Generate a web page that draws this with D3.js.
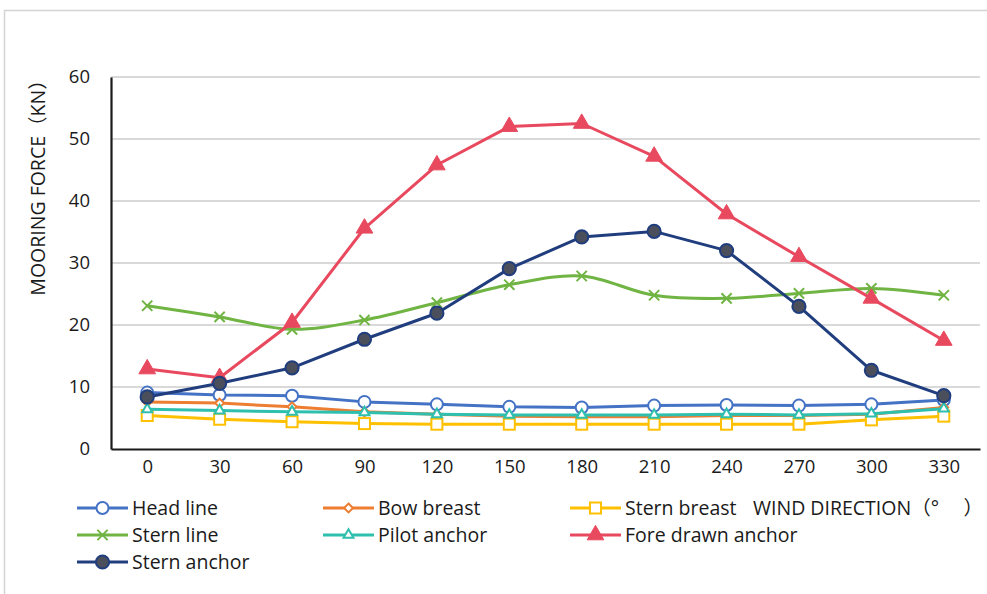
<!DOCTYPE html>
<html>
<head>
<meta charset="utf-8">
<script src="https://cdn.jsdelivr.net/npm/d3@7"></script>
<style>
  html, body { margin: 0; padding: 0; background: #fff; }
  svg { display: block; }
  text { font-family: "Open Sans", "Noto Sans CJK SC", sans-serif; fill: #1a1a1a; }
</style>
</head>
<body>
<svg id="chart" width="987" height="594"></svg>
<script>
// Wind direction categories (degrees)
const directions = [0, 30, 60, 90, 120, 150, 180, 210, 240, 270, 300, 330];
const yTicks = [0, 10, 20, 30, 40, 50, 60];

// Mooring force per line/anchor (kN)
const headLine       = [9.1, 8.7, 8.6, 7.6, 7.2, 6.8, 6.7, 7.0, 7.1, 7.0, 7.2, 7.9];
const bowBreast      = [7.6, 7.4, 6.8, 6.0, 5.6, 5.3, 5.2, 5.2, 5.4, 5.4, 5.6, 6.7];
const sternBreast    = [5.4, 4.8, 4.4, 4.1, 4.0, 4.0, 4.0, 4.0, 4.0, 4.0, 4.7, 5.3];
const sternLine      = [23.1, 21.3, 19.3, 20.8, 23.6, 26.5, 27.9, 24.8, 24.3, 25.1, 25.9, 24.8];
const pilotAnchor    = [6.4, 6.2, 6.0, 5.9, 5.6, 5.5, 5.5, 5.5, 5.6, 5.5, 5.7, 6.5];
const foreDrawn      = [12.9, 11.5, 20.4, 35.6, 45.8, 52.0, 52.5, 47.2, 37.9, 31.0, 24.3, 17.5];
const sternAnchor    = [8.4, 10.6, 13.1, 17.7, 21.9, 29.1, 34.2, 35.1, 32.0, 23.0, 12.7, 8.6];

const seriesList = [
  { name: "Head line",         values: headLine,    color: "#4472C4", marker: "circle" },
  { name: "Bow breast",        values: bowBreast,   color: "#ED7D31", marker: "diamond" },
  { name: "Stern breast",      values: sternBreast, color: "#FFC000", marker: "square" },
  { name: "Stern line",        values: sternLine,   color: "#70B443", marker: "cross", smooth: true },
  { name: "Pilot anchor",      values: pilotAnchor, color: "#2EBFAE", marker: "triangle" },
  { name: "Fore drawn anchor", values: foreDrawn,   color: "#E8495E", marker: "triangleFilled" },
  { name: "Stern anchor",      values: sternAnchor, color: "#203D7E", marker: "dot" }
];

const svg = d3.select("#chart");

// outer chart frame
svg.append("rect")
  .attr("x", 4.5).attr("y", 10.5)
  .attr("width", 1000).attr("height", 600)
  .attr("fill", "none").attr("stroke", "#d4d4d4").attr("stroke-width", 1.5);

const plot = { left: 111, right: 980, top: 77, bottom: 449 };

const x = d3.scalePoint().domain(directions).range([plot.left, plot.right]).padding(0.5);
const y = d3.scaleLinear().domain([0, 60]).range([plot.bottom, plot.top]);

// horizontal gridlines
svg.append("g")
  .selectAll("line")
  .data(yTicks.filter(d => d > 0))
  .join("line")
  .attr("x1", plot.left).attr("x2", plot.right)
  .attr("y1", d => y(d)).attr("y2", d => y(d))
  .attr("stroke", "#d9d9d9").attr("stroke-width", 2);

// y axis
const yAxis = svg.append("g")
  .attr("transform", `translate(${plot.left},0)`)
  .call(d3.axisLeft(y).tickValues(yTicks).tickSize(0).tickPadding(21));
yAxis.select(".domain").attr("stroke", "#1a1a1a").attr("stroke-width", 2.2);
yAxis.selectAll("text").attr("font-size", 18.5).style("font-family", "\"Open Sans\", sans-serif").attr("fill", "#1a1a1a");

// x axis
const xAxis = svg.append("g")
  .attr("transform", `translate(0,${plot.bottom})`)
  .call(d3.axisBottom(x).tickSize(0).tickPadding(11));
xAxis.select(".domain").attr("stroke", "#1a1a1a").attr("stroke-width", 2.2);
xAxis.selectAll("text").attr("font-size", 18.5).style("font-family", "\"Open Sans\", sans-serif").attr("fill", "#1a1a1a");

// y axis title
svg.append("text")
  .attr("transform", "translate(45,183) rotate(-90)")
  .attr("text-anchor", "middle")
  .attr("font-size", 19.5)
  .text("MOORING FORCE（KN）");

// marker drawing
function drawMarker(g, type, color, cx, cy) {
  if (type === "circle") {
    g.append("circle").attr("cx", cx).attr("cy", cy).attr("r", 6)
      .attr("fill", "#fff").attr("stroke", color).attr("stroke-width", 2);
  } else if (type === "diamond") {
    g.append("path").attr("d", d3.symbol(d3.symbolDiamond2, 50)())
      .attr("transform", `translate(${cx},${cy})`)
      .attr("fill", "#fff").attr("stroke", color).attr("stroke-width", 2);
  } else if (type === "square") {
    g.append("rect").attr("x", cx - 5.5).attr("y", cy - 5.5).attr("width", 11).attr("height", 11)
      .attr("fill", "#fff").attr("stroke", color).attr("stroke-width", 2);
  } else if (type === "cross") {
    g.append("path").attr("d", d3.symbol(d3.symbolX, 70)())
      .attr("transform", `translate(${cx},${cy})`)
      .attr("fill", "none").attr("stroke", color).attr("stroke-width", 2);
  } else if (type === "triangle") {
    g.append("path").attr("d", d3.symbol(d3.symbolTriangle2, 70)())
      .attr("transform", `translate(${cx},${cy})`)
      .attr("fill", "#fff").attr("stroke", color).attr("stroke-width", 2);
  } else if (type === "triangleFilled") {
    g.append("path").attr("d", d3.symbol(d3.symbolTriangle, 120)())
      .attr("transform", `translate(${cx},${cy})`)
      .attr("fill", color).attr("stroke", color).attr("stroke-width", 1);
  } else if (type === "dot") {
    g.append("circle").attr("cx", cx).attr("cy", cy).attr("r", 6.6)
      .attr("fill", "#4b4f5c").attr("stroke", color).attr("stroke-width", 2);
  }
}

// series lines and markers
seriesList.forEach(s => {
  const g = svg.append("g");
  const line = d3.line()
    .x((d, i) => x(directions[i]))
    .y(d => y(d))
    .curve(s.smooth ? d3.curveCatmullRom.alpha(0.5) : d3.curveLinear);
  g.append("path").datum(s.values)
    .attr("d", line)
    .attr("fill", "none").attr("stroke", s.color).attr("stroke-width", 3)
    .attr("stroke-linejoin", "round").attr("stroke-linecap", "round");
  s.values.forEach((v, i) => drawMarker(g, s.marker, s.color, x(directions[i]), y(v)));
});

// legend (three columns, wraps into rows)
const legendCols = [77, 323, 570];
const legendRows = [508, 535, 562];
const legend = svg.append("g");
seriesList.forEach((s, i) => {
  const lx = legendCols[i % 3];
  const ly = legendRows[Math.floor(i / 3)];
  const g = legend.append("g");
  g.append("line").attr("x1", lx).attr("x2", lx + 51).attr("y1", ly).attr("y2", ly)
    .attr("stroke", s.color).attr("stroke-width", 3);
  drawMarker(g, s.marker, s.color, lx + 25.5, ly);
  g.append("text").attr("x", lx + 55).attr("y", ly).attr("dy", "0.35em")
    .attr("font-size", 19.5).text(s.name);
});

// x axis title
svg.append("text")
  .attr("x", 753).attr("y", 508).attr("dy", "0.35em")
  .attr("font-size", 19.5)
  .text("WIND DIRECTION（° 　）");
</script>
</body>
</html>
